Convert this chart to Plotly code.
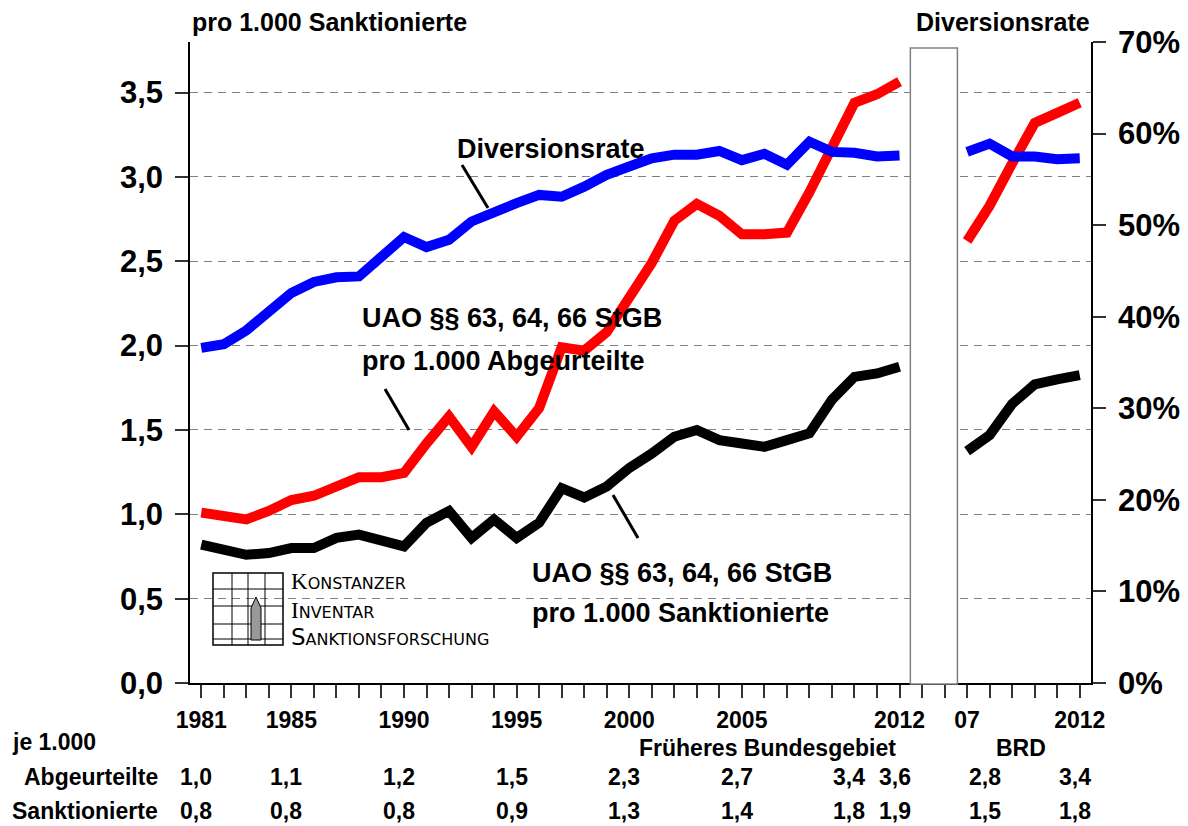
import plotly.graph_objects as go

# Früheres Bundesgebiet 1981-2012, BRD 2007-2012
years_west = list(range(1981, 2013))
years_brd = list(range(2007, 2013))

# UAO pro 1.000 Abgeurteilte
abgeurteilte_west = [1.01, 0.99, 0.97, 1.02, 1.085, 1.11, 1.17, 1.22, 1.22, 1.245,
                     1.42, 1.58, 1.40, 1.61, 1.46, 1.63, 1.99, 1.97, 2.08, 2.28,
                     2.49, 2.74, 2.84, 2.77, 2.66, 2.66, 2.67, 2.91, 3.18, 3.44,
                     3.49, 3.565]
abgeurteilte_brd = [2.62, 2.83, 3.08, 3.32, 3.38, 3.44]

# UAO pro 1.000 Sanktionierte
sanktionierte_west = [0.82, 0.79, 0.76, 0.77, 0.80, 0.80, 0.86, 0.88, 0.85, 0.81,
                      0.95, 1.02, 0.86, 0.97, 0.86, 0.95, 1.155, 1.10, 1.165, 1.275,
                      1.36, 1.46, 1.50, 1.44, 1.42, 1.40, 1.44, 1.48, 1.68, 1.815,
                      1.835, 1.875]
sanktionierte_brd = [1.375, 1.47, 1.655, 1.77, 1.80, 1.825]

# Diversionsrate in %
diversion_west = [36.6, 37.0, 38.5, 40.7, 42.6, 43.8, 44.3, 44.4, 46.4, 48.7,
                  47.6, 48.4, 50.4, 51.5, 52.4, 53.3, 53.1, 54.2, 55.5, 56.4,
                  57.3, 57.7, 57.7, 58.1, 57.1, 57.8, 56.6, 59.1, 58.0, 57.9,
                  57.5, 57.6]
diversion_brd = [58.0, 58.9, 57.5, 57.5, 57.2, 57.3]

# years shown in the small table below the axis
table_years_west = [1981, 1985, 1990, 1995, 2000, 2005, 2010, 2012]
table_years_brd = [2008, 2012]

labelled_west = [1981, 1985, 1990, 1995, 2000, 2005, 2012]
right_ticks = [0, 10, 20, 30, 40, 50, 60, 70]
left_ticks = [0, 0.5, 1, 1.5, 2, 2.5, 3, 3.5]
gap = 2  # empty slots between the two series

FONT = "Liberation Sans, Arial, sans-serif"

# positions on the x axis
x_west = list(range(len(years_west)))
brd_start = len(years_west) + gap
x_brd = [brd_start + i for i in range(len(years_brd))]
x_all = x_west + [None] * gap + x_brd
n_slots = brd_start + len(years_brd)

ticktext = []
for y in years_west:
    ticktext.append(str(y) if y in labelled_west else "")
ticktext += [""] * gap
for y in years_brd:
    if y == years_brd[0]:
        ticktext.append(str(y)[2:])
    elif y == years_brd[-1]:
        ticktext.append(str(y))
    else:
        ticktext.append("")


def join(a, b):
    return a + [None] * gap + b


fig = go.Figure()

fig.add_trace(go.Scatter(x=x_all, y=join(diversion_west, diversion_brd), yaxis="y2",
                         mode="lines", line=dict(color="#0000FF", width=10),
                         connectgaps=False, name="Diversionsrate"))
fig.add_trace(go.Scatter(x=x_all, y=join(sanktionierte_west, sanktionierte_brd),
                         mode="lines", line=dict(color="#000000", width=10),
                         connectgaps=False, name="pro 1.000 Sanktionierte"))
fig.add_trace(go.Scatter(x=x_all, y=join(abgeurteilte_west, abgeurteilte_brd),
                         mode="lines", line=dict(color="#FF0000", width=10),
                         connectgaps=False, name="pro 1.000 Abgeurteilte"))

# page body has an 8px margin; plot area in window pixels is 190..1091 x 42..683
OFF = 8
W, H = 1188 - OFF, 826 - OFF
L, R, T, B = 190, 1091, 42, 683


def px(x):
    return (x - L) / (R - L)


def py(y):
    return (B - y) / (B - T)


shapes = []
# gap box between the two periods
shapes.append(dict(type="rect", xref="x", yref="paper",
                   x0=len(years_west) - 0.52, x1=brd_start - 0.43,
                   y0=py(684), y1=py(48),
                   fillcolor="white", line=dict(color="#808080", width=1.5), layer="above"))

# leader lines
for (x0, y0, x1, y1) in [(462, 165, 488, 208), (385, 389, 409, 430), (613, 495, 638, 538)]:
    shapes.append(dict(type="line", xref="paper", yref="paper",
                       x0=px(x0), y0=py(y0), x1=px(x1), y1=py(y1),
                       line=dict(color="black", width=3)))

# logo
shapes.append(dict(type="rect", xref="paper", yref="paper",
                   x0=px(213), x1=px(283), y0=py(645), y1=py(573),
                   line=dict(color="black", width=1.5)))
for xv in [232, 248, 265]:
    shapes.append(dict(type="line", xref="paper", yref="paper",
                       x0=px(xv), x1=px(xv), y0=py(645), y1=py(573),
                       line=dict(color="black", width=1)))
for yv in [589, 606, 624, 639]:
    shapes.append(dict(type="line", xref="paper", yref="paper",
                       x0=px(213), x1=px(283), y0=py(yv), y1=py(yv),
                       line=dict(color="black", width=1)))
shapes.append(dict(type="path", xref="paper", yref="paper",
                   path=f"M {px(251)},{py(640)} L {px(251)},{py(608)} L {px(256)},{py(597)} "
                        f"L {px(261)},{py(608)} L {px(261)},{py(640)} Z",
                   fillcolor="#999999", line=dict(color="black", width=1)))

annotations = []


def text(x, y, s, size=23, anchor="left", family=FONT):
    annotations.append(dict(xref="paper", yref="paper", x=px(x), y=py(y), text=s,
                            showarrow=False, xanchor=anchor, yanchor="middle",
                            font=dict(family=family, size=size, color="black", weight="bold")))


text(190, 22, "pro 1.000 Sanktionierte", 25)
text(1092, 22, "Diversionsrate", 25, anchor="right")
text(455, 149, "Diversionsrate", 27)
text(360, 318, "UAO §§ 63, 64, 66 StGB", 27)
text(360, 361, "pro 1.000 Abgeurteilte", 27)
text(530, 573, "UAO §§ 63, 64, 66 StGB", 27)
text(530, 613, "pro 1.000 Sanktionierte", 27)

# logo text
for yv, big, rest, fam in [(581, "K", "ONSTANZER", "Liberation Serif, serif"),
                           (610, "I", "NVENTAR", "Liberation Serif, serif"),
                           (637, "S", "ANKTIONSFORSCHUNG", "DejaVu Sans, sans-serif")]:
    annotations.append(dict(xref="paper", yref="paper", x=px(289), y=py(yv),
                            text=f"<span style='font-family:{fam};font-size:23px'>{big}</span>{rest}",
                            showarrow=False, xanchor="left", yanchor="middle",
                            font=dict(family="DejaVu Sans, sans-serif", size=16, color="black")))

# table below the axis
text(10, 742, "je 1.000")
text(767, 748, "Früheres Bundesgebiet", anchor="center")
text(1021, 748, "BRD", anchor="center")
text(160, 777, "Abgeurteilte", anchor="right")
text(160, 811, "Sanktionierte", anchor="right")


def fmt(v):
    return f"{v:.1f}".replace(".", ",")


for row_y, west, brd in [(777, abgeurteilte_west, abgeurteilte_brd),
                         (811, sanktionierte_west, sanktionierte_brd)]:
    for yr in table_years_west:
        i = years_west.index(yr)
        annotations.append(dict(xref="x", yref="paper", x=x_west[i], y=py(row_y), xshift=-5,
                                text=fmt(west[i]), showarrow=False, xanchor="center", yanchor="middle",
                                font=dict(family=FONT, size=23, color="black", weight="bold")))
    for yr in table_years_brd:
        i = years_brd.index(yr)
        annotations.append(dict(xref="x", yref="paper", x=x_brd[i], y=py(row_y), xshift=-5,
                                text=fmt(brd[i]), showarrow=False, xanchor="center", yanchor="middle",
                                font=dict(family=FONT, size=23, color="black", weight="bold")))

fig.update_layout(
    width=W, height=H,
    margin=dict(l=L - OFF, r=W - (R - OFF), t=T - OFF, b=H - (B - OFF), autoexpand=False),
    plot_bgcolor="white", paper_bgcolor="white",
    separators=",.",
    showlegend=False,
    shapes=shapes,
    annotations=annotations,
    xaxis=dict(range=[-0.5, n_slots - 0.5], tickmode="array",
               tickvals=list(range(n_slots)), ticktext=ticktext,
               ticks="outside", ticklen=13, tickwidth=1.5, tickcolor="#333333",
               showline=True, linecolor="black", linewidth=1.5, showgrid=False, zeroline=False,
               tickfont=dict(family=FONT, size=23, color="black", weight="bold"),
               ticklabelstandoff=3),
    yaxis=dict(range=[0, 3.8], tickmode="array", tickvals=left_ticks,
               ticktext=[fmt(v) for v in left_ticks],
               ticks="outside", ticklen=13, tickwidth=1.5, tickcolor="#333333",
               showline=True, linecolor="black", linewidth=1.5,
               showgrid=True, gridcolor="#808080", gridwidth=1, griddash="8px,6px",
               zeroline=False,
               tickfont=dict(family=FONT, size=31, color="black", weight="bold"),
               ticklabelstandoff=6),
    yaxis2=dict(range=[0, 70], overlaying="y", side="right", tickmode="array",
                tickvals=right_ticks, ticktext=[f"{v}%" for v in right_ticks],
                ticks="outside", ticklen=13, tickwidth=1.5, tickcolor="#333333",
                showline=True, linecolor="black", linewidth=1.5,
                showgrid=False, zeroline=False,
                tickfont=dict(family=FONT, size=31, color="black", weight="bold"),
                ticklabelstandoff=6),
)

fig.write_html("out.html")
